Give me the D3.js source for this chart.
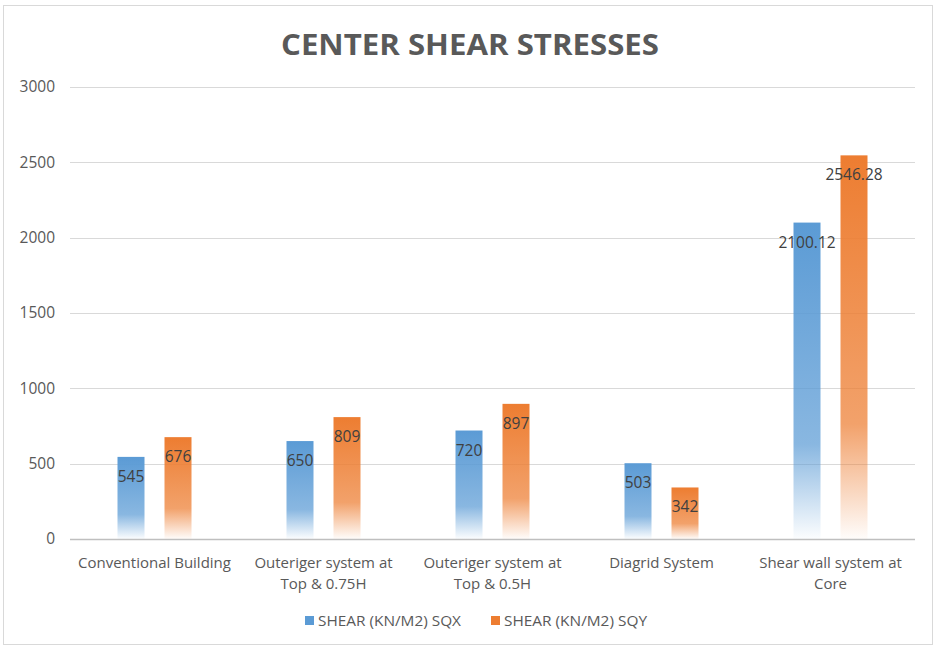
<!DOCTYPE html>
<html lang="en">
<head>
<meta charset="utf-8" />
<title>Center Shear Stresses</title>
<script src="https://cdn.jsdelivr.net/npm/d3@7"></script>
<style>
  body { margin: 0; background: #fff; font-family: "Open Sans", "Liberation Sans", sans-serif; }
  svg text { fill: #595959; }
</style>
</head>
<body>
<div id="chart"></div>
<script>
var width = 936, height = 649;

var categories = [
  ["Conventional Building"],
  ["Outeriger system at", "Top & 0.75H"],
  ["Outeriger system at", "Top & 0.5H"],
  ["Diagrid System"],
  ["Shear wall system at", "Core"]
];
var seriesNames = ["SHEAR (KN/M2) SQX", "SHEAR (KN/M2) SQY"];
var sqx = [545, 650, 720, 503, 2100.12];
var sqy = [676, 809, 897, 342, 2546.28];
var yTicks = [0, 500, 1000, 1500, 2000, 2500, 3000];
var colors = ["#5b9bd5", "#ed7d31"];

var margin = {left: 70, right: 21, top: 87, bottom: 110};

var svg = d3.select("#chart").append("svg")
    .attr("width", width)
    .attr("height", height);

// frame
svg.append("rect")
    .attr("x", 3.5).attr("y", 5.5)
    .attr("width", width - 7).attr("height", height - 10)
    .attr("fill", "#fff").attr("stroke", "#d9d9d9");

var defs = svg.append("defs");
colors.forEach(function(c, i) {
  var g = defs.append("linearGradient")
      .attr("id", "grad" + i)
      .attr("x1", 0).attr("y1", 0).attr("x2", 0).attr("y2", 1);
  g.append("stop").attr("offset", "0%").attr("stop-color", c).attr("stop-opacity", 1);
  g.append("stop").attr("offset", "70%").attr("stop-color", c).attr("stop-opacity", 0.72);
  g.append("stop").attr("offset", "100%").attr("stop-color", c).attr("stop-opacity", 0.02);
});

var x = d3.scaleBand()
    .domain(d3.range(categories.length))
    .range([margin.left, width - margin.right]);

// two bars of ~27px with a 20px gap, centred in each band
var x1 = d3.scaleBand()
    .domain([0, 1])
    .range([x.bandwidth() / 2 - 37, x.bandwidth() / 2 + 37])
    .paddingInner(20 / 47);

var y = d3.scaleLinear()
    .domain([0, 3000])
    .range([height - margin.bottom, margin.top]);

// gridlines
svg.append("g")
  .selectAll("line")
  .data(yTicks)
  .join("line")
    .attr("x1", margin.left).attr("x2", width - margin.right)
    .attr("y1", function(d) { return Math.round(y(d)) + 0.5; })
    .attr("y2", function(d) { return Math.round(y(d)) + 0.5; })
    .attr("stroke", function(d) { return d === 0 ? "#bfbfbf" : "#d9d9d9"; })
    .attr("stroke-width", function(d) { return d === 0 ? 1.5 : 1; });

// y axis labels
var yAxis = d3.axisLeft(y).tickValues(yTicks).tickFormat(d3.format("d")).tickSize(0).tickPadding(15);
var ya = svg.append("g")
    .attr("transform", "translate(" + margin.left + ",0)")
    .call(yAxis);
ya.select(".domain").remove();
ya.selectAll("text")
    .style("font-size", "15.5px")
    .style("font-family", "'Open Sans', sans-serif")
    .attr("fill", "#595959");

// bars
var series = [sqx, sqy];
series.forEach(function(vals, s) {
  var g = svg.append("g");
  g.selectAll("rect")
    .data(vals)
    .join("rect")
      .attr("x", function(d, i) { return x(i) + x1(s); })
      .attr("width", x1.bandwidth())
      .attr("y", function(d) { return y(d); })
      .attr("height", function(d) { return y(0) - y(d); })
      .attr("fill", "url(#grad" + s + ")");
  g.selectAll("text")
    .data(vals)
    .join("text")
      .attr("x", function(d, i) { return x(i) + x1(s) + x1.bandwidth() / 2; })
      .attr("y", function(d) { return y(d) + 25; })
      .attr("text-anchor", "middle")
      .style("font-size", "15.5px")
      .style("fill", "#404040")
      .text(function(d) { return d; });
});

// category labels
var cat = svg.append("g");
categories.forEach(function(lines, i) {
  var t = cat.append("text")
      .attr("x", x(i) + x.bandwidth() / 2)
      .attr("y", 568)
      .attr("text-anchor", "middle")
      .style("font-size", "15px");
  lines.forEach(function(l, k) {
    t.append("tspan")
      .attr("x", x(i) + x.bandwidth() / 2)
      .attr("dy", k === 0 ? 0 : 21)
      .text(l);
  });
});

// title
svg.append("text")
    .attr("x", 470)
    .attr("y", 55)
    .attr("text-anchor", "middle")
    .attr("textLength", 378)
    .attr("lengthAdjust", "spacingAndGlyphs")
    .style("font-size", "29px")
    .style("font-weight", "bold")
    .text("CENTER SHEAR STRESSES");

// legend
var legendX = [305, 491];
var legend = svg.append("g");
seriesNames.forEach(function(n, i) {
  legend.append("rect")
    .attr("x", legendX[i]).attr("y", 616)
    .attr("width", 9).attr("height", 9)
    .attr("fill", colors[i]);
  legend.append("text")
    .attr("x", legendX[i] + 13)
    .attr("y", 626)
    .attr("textLength", 143)
    .attr("lengthAdjust", "spacingAndGlyphs")
    .style("font-size", "15px")
    .text(n);
});
</script>
</body>
</html>
